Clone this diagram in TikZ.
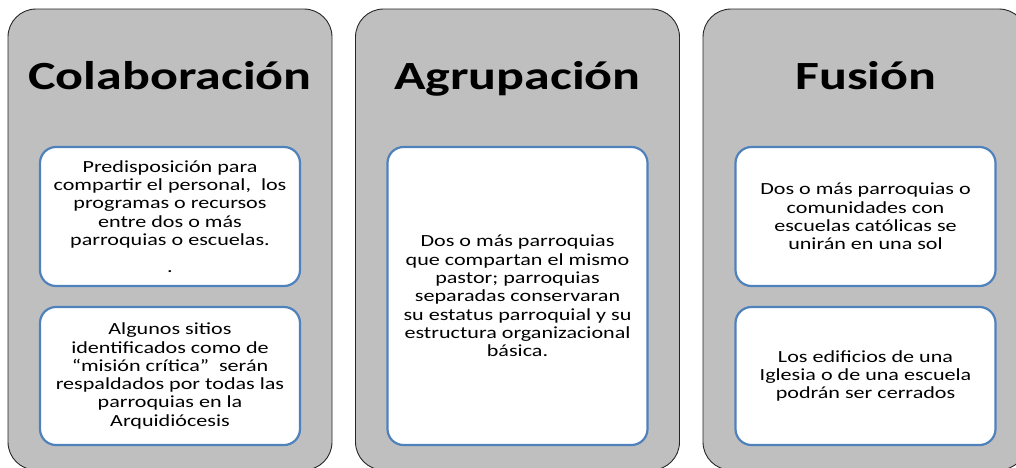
\documentclass[tikz,border=0pt]{standalone}
\usepackage{fontspec}
\setmainfont{Carlito}[FakeStretch=1.3]
\definecolor{colgray}{HTML}{BFBFBF}
\definecolor{boxblue}{HTML}{4F81BD}
\begin{document}
\begin{tikzpicture}[x=1pt,y=-1pt,
  colbox/.style={draw=black!85, line width=0.9pt, fill=colgray, rounded corners=28pt, inner sep=0pt, minimum width=324pt, minimum height=461pt},
  inbox/.style={draw=boxblue, line width=2.2pt, fill=white, rounded corners=16pt, inner sep=0pt, minimum width=260pt},
  ttl/.style={font=\bfseries\fontsize{40}{48}\selectfont, anchor=base, inner sep=0pt},
  txt/.style={font=\fontsize{17}{18.3}\selectfont, align=center, inner sep=0pt}]
\useasboundingbox (0,0) rectangle (1016,467);
\clip (0,0) rectangle (1016,467);
% columns
\node[colbox] (c1) at (170,239.5) {};
\node[colbox] (c2) at (517.5,239.5) {};
\node[colbox] (c3) at (865,239.5) {};
% titles
\node[ttl] (t1) at (170,89) {Colaboración};
\node[ttl] (t2) at (517.5,89) {Agrupación};
\node[ttl] (t3) at (866,89) {Fusión};
% inner boxes
\node[inbox, minimum height=139pt] (b11) at (170,216.5) {};
\node[inbox, minimum height=138pt] (b12) at (170,376) {};
\node[inbox, minimum height=298pt] (b21) at (517.5,296) {};
\node[inbox, minimum height=139pt] (b31) at (865.5,216.5) {};
\node[inbox, minimum height=138pt] (b32) at (865.5,376) {};
% texts
\node[txt] (x11) at (b11.center) {Predisposición para\\compartir el personal,~ los\\programas o recursos\\entre dos o más\\parroquias o escuelas.\\[8.7pt].};
\node[txt] (x12) at (b12.center) {Algunos sitios\\identificados como de\\“misión crítica”~ serán\\respaldados por todas las\\parroquias en la\\Arquidiócesis};
\node[txt] (x21) at (b21.center) {Dos o más parroquias\\que compartan el mismo\\pastor; parroquias\\separadas conservaran\\su estatus parroquial y su\\estructura organizacional\\básica.};
\node[txt] (x31) at (b31.center) {Dos o más parroquias o\\comunidades con\\escuelas católicas se\\unirán en una sol};
\node[txt] (x32) at (b32.center) {Los edificios de una\\Iglesia o de una escuela\\podrán ser cerrados};
\end{tikzpicture}
\end{document}
